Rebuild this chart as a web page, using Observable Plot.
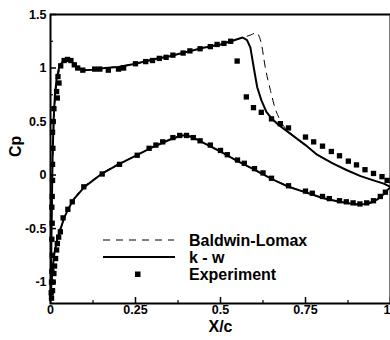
<!DOCTYPE html>
<html>
<head>
<meta charset="utf-8">
<script src="https://cdn.jsdelivr.net/npm/d3@7"></script>
<script src="https://cdn.jsdelivr.net/npm/@observablehq/plot@0.6"></script>
<style>
  html, body { margin: 0; padding: 0; background: #fff; }
  #wrap { position: relative; width: 390px; height: 340px; font-family: "Liberation Sans", Arial, sans-serif; }
  #legend { position: absolute; left: 0; top: 0; width: 390px; height: 340px; pointer-events: none; }
</style>
</head>
<body>
<div id="wrap"><div id="chart"></div><svg id="legend" width="390" height="340"></svg></div>
<script>
// ---- Data ----
const kwUpperX  = [0.000,0.002,0.004,0.006,0.009,0.013,0.018,0.024,0.031,0.040,0.050,0.065,0.080,0.100,0.130,0.160,0.200,0.250,0.300,0.350,0.400,0.450,0.500,0.540,0.565,0.578,0.588,0.598,0.608,0.620,0.635,0.650,0.670,0.706,0.750,0.784,0.830,0.872,0.912,0.950,0.980,1.000];
const kwUpperCp = [-1.15,-0.80,-0.30,0.15,0.50,0.75,0.90,0.99,1.04,1.07,1.08,1.05,1.00,0.98,0.985,1.00,1.01,1.04,1.08,1.11,1.15,1.19,1.22,1.26,1.285,1.26,1.19,1.00,0.82,0.70,0.59,0.53,0.47,0.385,0.28,0.19,0.11,0.045,-0.01,-0.05,-0.08,-0.11];
const kwLowerX  = [0.000,0.003,0.007,0.012,0.020,0.030,0.040,0.055,0.070,0.100,0.150,0.200,0.250,0.300,0.350,0.385,0.400,0.420,0.450,0.500,0.550,0.600,0.650,0.700,0.750,0.800,0.850,0.900,0.930,0.960,0.980,1.000];
const kwLowerCp = [-1.15,-1.00,-0.85,-0.72,-0.60,-0.50,-0.40,-0.30,-0.22,-0.11,0.01,0.10,0.18,0.26,0.33,0.37,0.37,0.35,0.30,0.22,0.13,0.05,-0.035,-0.11,-0.16,-0.215,-0.25,-0.275,-0.27,-0.23,-0.18,-0.11];
const blUpperX  = [0.000,0.004,0.011,0.022,0.040,0.065,0.100,0.160,0.250,0.350,0.450,0.540,0.570,0.590,0.605,0.620,0.632,0.647,0.660,0.676,0.690,0.706,0.750,0.784,0.830,0.872,0.912,0.950,0.980,1.000];
const blUpperCp = [-1.15,-0.30,0.55,0.92,1.07,1.05,0.98,1.00,1.04,1.11,1.19,1.26,1.29,1.31,1.33,1.23,1.00,0.79,0.63,0.51,0.44,0.39,0.28,0.19,0.11,0.045,-0.01,-0.05,-0.08,-0.11];
const blLowerX  = [0.000,0.007,0.020,0.040,0.070,0.150,0.250,0.350,0.400,0.450,0.550,0.650,0.750,0.850,0.930,0.980,1.000];
const blLowerCp = [-1.15,-0.85,-0.60,-0.40,-0.22,0.01,0.18,0.33,0.37,0.30,0.13,-0.035,-0.16,-0.25,-0.27,-0.18,-0.11];
const expX  = [0.002,0.003,0.004,0.005,0.004,0.005,0.004,0.005,0.006,0.006,0.007,0.006,0.008,0.010,0.020,0.018,0.025,0.022,0.030,0.040,0.050,0.060,0.070,0.080,0.095,0.130,0.145,0.170,0.200,0.215,0.250,0.280,0.300,0.320,0.340,0.360,0.390,0.410,0.440,0.470,0.490,0.510,0.530,0.549,0.576,0.597,0.620,0.650,0.676,0.700,0.750,0.774,0.800,0.826,0.850,0.876,0.900,0.925,0.950,0.975,0.990,
                0.003,0.006,0.008,0.010,0.012,0.015,0.018,0.020,0.024,0.029,0.037,0.051,0.064,0.098,0.152,0.203,0.255,0.290,0.310,0.330,0.360,0.380,0.400,0.420,0.440,0.470,0.500,0.520,0.550,0.570,0.600,0.625,0.650,0.700,0.750,0.770,0.800,0.820,0.850,0.870,0.890,0.910,0.930,0.950,0.970,0.985];
const expCp = [-1.10,-1.00,-0.90,-0.75,-0.60,-0.45,-0.30,-0.20,-0.05,0.10,0.25,0.40,0.50,0.62,0.72,0.78,0.86,0.92,1.02,1.07,1.08,1.07,1.03,1.00,0.98,0.99,0.99,0.98,0.99,1.00,1.04,1.06,1.07,1.09,1.10,1.12,1.14,1.16,1.18,1.20,1.22,1.23,1.25,1.065,0.73,0.63,0.586,0.525,0.48,0.44,0.355,0.31,0.27,0.22,0.18,0.13,0.095,0.05,0.015,-0.015,-0.05,
                -1.15,-1.08,-1.00,-0.92,-0.85,-0.78,-0.70,-0.64,-0.58,-0.53,-0.40,-0.32,-0.25,-0.11,0.01,0.10,0.185,0.25,0.28,0.31,0.35,0.37,0.37,0.35,0.32,0.28,0.23,0.19,0.14,0.11,0.06,0.02,-0.03,-0.10,-0.15,-0.17,-0.20,-0.22,-0.24,-0.25,-0.26,-0.27,-0.26,-0.24,-0.20,-0.16];
const xTicks = [0, 0.25, 0.5, 0.75, 1];
const xTickLabels = ["0", "0.25", "0.5", "0.75", "1"];
const xMinor = [0.125, 0.375, 0.625, 0.875];
const yTicks = [-1, -0.5, 0, 0.5, 1, 1.5];
const yTickLabels = ["-1", "-0.5", "0", "0.5", "1", "1.5"];
const yMinor = [-0.75, -0.25, 0.25, 0.75, 1.25];
const seriesNames = ["Baldwin-Lomax", "k - w", "Experiment"];

// ---- Build tables ----
const toRows = (xs, ys) => xs.map((x, i) => ({x, cp: ys[i]}));
const kwUpper = toRows(kwUpperX, kwUpperCp);
const kwLower = toRows(kwLowerX, kwLowerCp);
const blUpper = toRows(blUpperX, blUpperCp);
const blLower = toRows(blLowerX, blLowerCp);
const exp = toRows(expX, expCp);
const xLabelRows = xTicks.map((v, i) => ({v, label: xTickLabels[i], last: i === xTicks.length - 1}));

const W = 390, H = 340, mL = 50, mR = 0, mT = 14, mB = 37;
const plotW = W - mL - mR, plotH = H - mT - mB;
const font = '"Liberation Sans", Arial, sans-serif';

const chart = Plot.plot({
  width: W, height: H,
  marginLeft: mL, marginRight: mR, marginTop: mT, marginBottom: mB,
  style: {fontFamily: font, fontSize: "12.5px", fontWeight: "bold", color: "#000", background: "#fff"},
  x: {domain: [0, 1], axis: null},
  y: {domain: [-1.2, 1.5], axis: null},
  marks: [
    Plot.frame({stroke: "#000", strokeWidth: 2}),
    Plot.tickX(xTicks, {x: d => d, insetTop: plotH - 6, stroke: "#000", strokeWidth: 1.5}),
    Plot.tickX(xMinor, {x: d => d, insetTop: plotH - 3, stroke: "#000", strokeWidth: 1.2}),
    Plot.tickY(yTicks, {y: d => d, insetRight: plotW - 6, stroke: "#000", strokeWidth: 1.5}),
    Plot.tickY(yMinor, {y: d => d, insetRight: plotW - 3, stroke: "#000", strokeWidth: 1.2}),
    Plot.text(xLabelRows.filter(d => !d.last), {x: "v", text: "label", frameAnchor: "bottom", dy: 10, fontSize: 12.5}),
    Plot.text(xLabelRows.filter(d => d.last), {x: "v", text: "label", frameAnchor: "bottom", dy: 10, textAnchor: "end", fontSize: 12.5}),
    Plot.axisY({ticks: yTicks, tickSize: 0, tickPadding: 4, tickFormat: d => yTickLabels[yTicks.indexOf(d)], label: null, fontSize: 12.5}),
    Plot.text(["X/c"], {frameAnchor: "bottom", dy: 28, fontSize: 16, text: d => d}),
    Plot.text(["Cp"], {frameAnchor: "left", dx: -35, dy: -2, rotate: -90, fontSize: 16, text: d => d}),
    Plot.line(blUpper, {x: "x", y: "cp", stroke: "#000", strokeWidth: 1, strokeDasharray: "7,6", curve: "monotone-x"}),
    Plot.line(blLower, {x: "x", y: "cp", stroke: "#000", strokeWidth: 1, strokeDasharray: "7,6", curve: "monotone-x"}),
    Plot.line(kwUpper, {x: "x", y: "cp", stroke: "#000", strokeWidth: 2, curve: "linear"}),
    Plot.line(kwLower, {x: "x", y: "cp", stroke: "#000", strokeWidth: 2, curve: "linear"}),
    Plot.dot(exp, {x: "x", y: "cp", symbol: "square", r: 3, fill: "#000", stroke: null})
  ]
});
document.getElementById("chart").appendChild(chart);

// ---- Legend (inside the plot area) ----
const lg = d3.select("#legend");
const rows = [
  {name: seriesNames[0], type: "dash", y: 240},
  {name: seriesNames[1], type: "solid", y: 257},
  {name: seriesNames[2], type: "square", y: 274}
];
rows.forEach(r => {
  if (r.type === "dash") {
    lg.append("line").attr("x1", 103).attr("x2", 174).attr("y1", r.y).attr("y2", r.y)
      .attr("stroke", "#000").attr("stroke-width", 1).attr("stroke-dasharray", "7,6");
  } else if (r.type === "solid") {
    lg.append("line").attr("x1", 103).attr("x2", 175).attr("y1", r.y).attr("y2", r.y)
      .attr("stroke", "#000").attr("stroke-width", 2);
  } else {
    lg.append("rect").attr("x", 135).attr("y", r.y - 2.5).attr("width", 5.5).attr("height", 5.5).attr("fill", "#000");
  }
  lg.append("text").attr("x", 189).attr("y", r.y + 5.5).attr("font-family", font)
    .attr("font-size", 16).attr("font-weight", "bold").attr("fill", "#000").text(r.name);
});
</script>
</body>
</html>
